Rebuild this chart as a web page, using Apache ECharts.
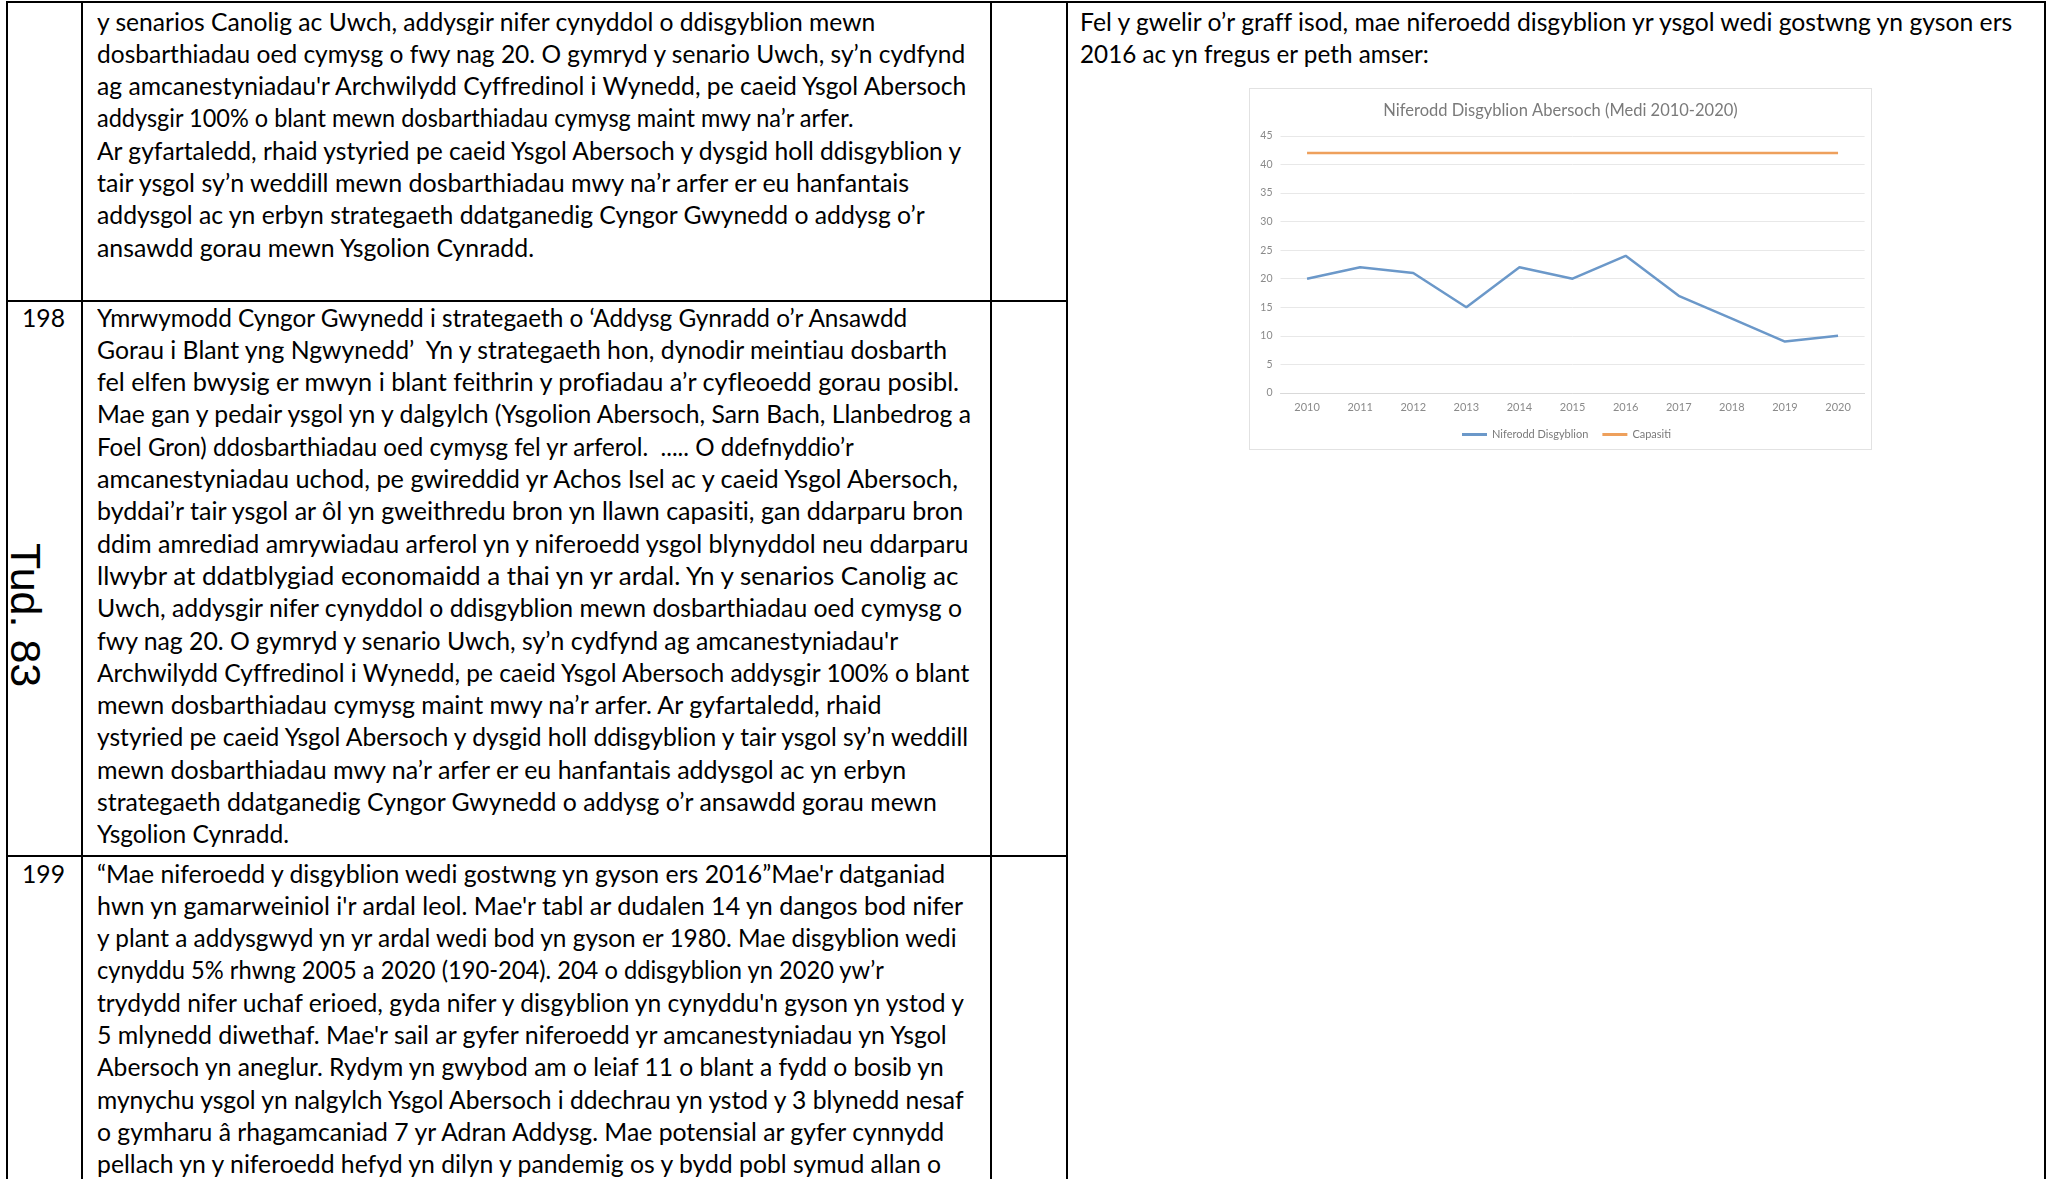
<!DOCTYPE html>
<html>
<head>
<meta charset="utf-8">
<script src="https://cdn.jsdelivr.net/npm/echarts@6.0.0/dist/echarts.min.js"></script>
<style>
  html, body { margin: 0; padding: 0; background: #fff; }
  #page { position: relative; width: 2055px; height: 1179px; overflow: hidden; background: #fff; }
  .rule { position: absolute; background: #000; }
  .ln { position: absolute; white-space: pre; font-family: Lato, "Open Sans", sans-serif; font-size: 24.7px; line-height: 32.3px; color: #000; transform-origin: 0 0; font-variant-ligatures: none; }
  #tud { position: absolute; white-space: pre; font-family: "Liberation Sans", Arial, sans-serif; font-size: 43px; line-height: 43px; color: #000; transform-origin: 0 0; transform: rotate(90deg); }
  #chartBox { position: absolute; left: 1249px; top: 88px; width: 623px; height: 362px; filter: blur(0.35px); }
  #chart { position: absolute; left: 0; top: 0; width: 623px; height: 362px; }
  #chartBorder { position: absolute; left: 1249px; top: 88px; width: 623px; height: 362px; box-sizing: border-box; border: 1px solid #e2e2e2; pointer-events: none; }
</style>
</head>
<body>
<div id="page">
  <div id="chartBox"><div id="chart"></div></div>
  <div id="chartBorder"></div>
</div>
<script>
// ---------------- chart data ----------------
const years = ['2010', '2011', '2012', '2013', '2014', '2015', '2016', '2017', '2018', '2019', '2020'];
const pupils = [20, 22, 21, 15, 22, 20, 24, 17, 13, 9, 10];
const capacity = [42, 42, 42, 42, 42, 42, 42, 42, 42, 42, 42];
const seriesNames = ['Niferodd Disgyblion', 'Capasiti'];
const chartTitle = 'Niferodd Disgyblion Abersoch (Medi 2010-2020)';

// ---------------- document text ----------------
const rowNumbers = ['', '198', '199'];
const row1Lines = [
  'y senarios Canolig ac Uwch, addysgir nifer cynyddol o ddisgyblion mewn',
  'dosbarthiadau oed cymysg o fwy nag 20. O gymryd y senario Uwch, sy’n cydfynd',
  "ag amcanestyniadau'r Archwilydd Cyffredinol i Wynedd, pe caeid Ysgol Abersoch",
  'addysgir 100% o blant mewn dosbarthiadau cymysg maint mwy na’r arfer.',
  'Ar gyfartaledd, rhaid ystyried pe caeid Ysgol Abersoch y dysgid holl ddisgyblion y',
  'tair ysgol sy’n weddill mewn dosbarthiadau mwy na’r arfer er eu hanfantais',
  'addysgol ac yn erbyn strategaeth ddatganedig Cyngor Gwynedd o addysg o’r',
  'ansawdd gorau mewn Ysgolion Cynradd.'
];
const row2Lines = [
  'Ymrwymodd Cyngor Gwynedd i strategaeth o ‘Addysg Gynradd o’r Ansawdd',
  'Gorau i Blant yng Ngwynedd’  Yn y strategaeth hon, dynodir meintiau dosbarth',
  'fel elfen bwysig er mwyn i blant feithrin y profiadau a’r cyfleoedd gorau posibl.',
  'Mae gan y pedair ysgol yn y dalgylch (Ysgolion Abersoch, Sarn Bach, Llanbedrog a',
  'Foel Gron) ddosbarthiadau oed cymysg fel yr arferol.  ..... O ddefnyddio’r',
  'amcanestyniadau uchod, pe gwireddid yr Achos Isel ac y caeid Ysgol Abersoch,',
  'byddai’r tair ysgol ar ôl yn gweithredu bron yn llawn capasiti, gan ddarparu bron',
  'ddim amrediad amrywiadau arferol yn y niferoedd ysgol blynyddol neu ddarparu',
  'llwybr at ddatblygiad economaidd a thai yn yr ardal. Yn y senarios Canolig ac',
  'Uwch, addysgir nifer cynyddol o ddisgyblion mewn dosbarthiadau oed cymysg o',
  "fwy nag 20. O gymryd y senario Uwch, sy’n cydfynd ag amcanestyniadau'r",
  'Archwilydd Cyffredinol i Wynedd, pe caeid Ysgol Abersoch addysgir 100% o blant',
  'mewn dosbarthiadau cymysg maint mwy na’r arfer. Ar gyfartaledd, rhaid',
  'ystyried pe caeid Ysgol Abersoch y dysgid holl ddisgyblion y tair ysgol sy’n weddill',
  'mewn dosbarthiadau mwy na’r arfer er eu hanfantais addysgol ac yn erbyn',
  'strategaeth ddatganedig Cyngor Gwynedd o addysg o’r ansawdd gorau mewn',
  'Ysgolion Cynradd.'
];
const row3Lines = [
  "“Mae niferoedd y disgyblion wedi gostwng yn gyson ers 2016”Mae'r datganiad",
  "hwn yn gamarweiniol i'r ardal leol. Mae'r tabl ar dudalen 14 yn dangos bod nifer",
  'y plant a addysgwyd yn yr ardal wedi bod yn gyson er 1980. Mae disgyblion wedi',
  'cynyddu 5% rhwng 2005 a 2020 (190-204). 204 o ddisgyblion yn 2020 yw’r',
  "trydydd nifer uchaf erioed, gyda nifer y disgyblion yn cynyddu'n gyson yn ystod y",
  "5 mlynedd diwethaf. Mae'r sail ar gyfer niferoedd yr amcanestyniadau yn Ysgol",
  'Abersoch yn aneglur. Rydym yn gwybod am o leiaf 11 o blant a fydd o bosib yn',
  'mynychu ysgol yn nalgylch Ysgol Abersoch i ddechrau yn ystod y 3 blynedd nesaf',
  'o gymharu â rhagamcaniad 7 yr Adran Addysg. Mae potensial ar gyfer cynnydd',
  'pellach yn y niferoedd hefyd yn dilyn y pandemig os y bydd pobl symud allan o'
];
const rightLines = [
  'Fel y gwelir o’r graff isod, mae niferoedd disgyblion yr ysgol wedi gostwng yn gyson ers',
  '2016 ac yn fregus er peth amser:'
];
const pageLabel = 'Tud. 83';

// ---------------- document layout (positions only) ----------------
const page = document.getElementById('page');
const FONT_PX = 24.7, LH = 32.3;
const TEXT_X = 97, NUM_X = 22, RIGHT_X = 1080;
// right-hand end of each text line in the reference (page pixels)
const row1Ends = [877, 967, 969, 855, 966, 913, 926, 535];
const row2Ends = [909, 951, 961, 976, 855, 963, 967, 971, 963, 963, 900, 971, 884, 974, 909, 938, 289];
const row3Ends = [948, 966, 961, 885, 969, 951, 946, 969, 948, 946];
const rightEnds = [2017, 1430];

const ctx = document.createElement('canvas').getContext('2d');
ctx.font = FONT_PX + 'px Lato';
const refs = [[row1Lines[2], 873], [row2Lines[3], 879], [row2Lines[13], 878], [rightLines[0], 937]];
const kGlobal = refs.reduce((s, r) => s + r[1] / ctx.measureText(r[0]).width, 0) / refs.length;

function rule(x, y, w, h) {
  const d = document.createElement('div');
  d.className = 'rule';
  d.style.left = x + 'px'; d.style.top = y + 'px';
  d.style.width = w + 'px'; d.style.height = h + 'px';
  page.appendChild(d);
}
function addLines(lines, x, y0, ends) {
  lines.forEach((t, i) => {
    const d = document.createElement('div');
    d.className = 'ln';
    d.textContent = t;
    d.style.left = x + 'px';
    d.style.top = (y0 + i * LH) + 'px';
    let k = kGlobal;
    if (ends) {
      const kl = (ends[i] - x) / ctx.measureText(t).width;
      k = Math.max(kGlobal * 0.9, Math.min(kGlobal * 1.1, kl));
    }
    d.style.transform = 'scaleX(' + k + ')';
    page.appendChild(d);
  });
}
// table rules
rule(6, 1, 2040, 2);          // top border
rule(6, 1, 2, 1178);          // left border
rule(81, 1, 2, 1178);         // column 1
rule(990, 1, 2, 1178);        // column 2
rule(1066, 1, 2, 1178);       // column 3
rule(2044, 1, 2, 1178);       // right border
rule(6, 300, 1062, 2);        // row 1 / row 2
rule(6, 855, 1062, 2);        // row 2 / row 3

addLines(row1Lines, TEXT_X, 5.5, row1Ends);
addLines(row2Lines, TEXT_X, 301.5, row2Ends);
addLines(row3Lines, TEXT_X, 857.5, row3Ends);
addLines([rowNumbers[1]], NUM_X, 301.5);
addLines([rowNumbers[2]], NUM_X, 857.5);
addLines(rightLines, RIGHT_X, 5.5, rightEnds);

const tud = document.createElement('div');
tud.id = 'tud';
tud.textContent = pageLabel;
tud.style.left = '47px';
tud.style.top = '543px';
page.appendChild(tud);

// ---------------- chart ----------------
const chart = echarts.init(document.getElementById('chart'), null, { renderer: 'canvas' });
chart.setOption({
  animation: false,
  backgroundColor: '#ffffff',
  textStyle: { fontFamily: 'Lato' },
  title: {
    text: chartTitle,
    left: 'center',
    top: 9,
    textStyle: { fontSize: 16.5, fontWeight: 'normal', color: '#7a7a7a', fontFamily: 'Lato' }
  },
  legend: {
    data: seriesNames,
    left: 208,
    top: 336,
    icon: 'rect',
    itemWidth: 25,
    itemHeight: 3,
    itemGap: 14,
    textStyle: { fontSize: 11, color: '#7a7a7a' }
  },
  grid: { left: 31.5, right: 7.4, top: 47.8, bottom: 57, containLabel: false },
  xAxis: {
    type: 'category',
    data: years,
    axisLine: { lineStyle: { color: '#d9d9d9', width: 1 } },
    axisTick: { show: false },
    axisLabel: { fontSize: 11, color: '#8a8a8a', margin: 9 }
  },
  yAxis: {
    type: 'value',
    min: 0,
    max: 45,
    interval: 5,
    axisLine: { show: false },
    axisTick: { show: false },
    splitLine: { lineStyle: { color: '#e8e8e8', width: 1 } },
    axisLabel: { fontSize: 10.5, color: '#8a8a8a', margin: 8 }
  },
  series: [
    {
      name: seriesNames[0], type: 'line', data: pupils, symbol: 'none',
      lineStyle: { width: 2.5, color: '#6b98c9' }, itemStyle: { color: '#6b98c9' }
    },
    {
      name: seriesNames[1], type: 'line', data: capacity, symbol: 'none',
      lineStyle: { width: 2.5, color: '#eea05c' }, itemStyle: { color: '#eea05c' }
    }
  ]
});
</script>
</body>
</html>
